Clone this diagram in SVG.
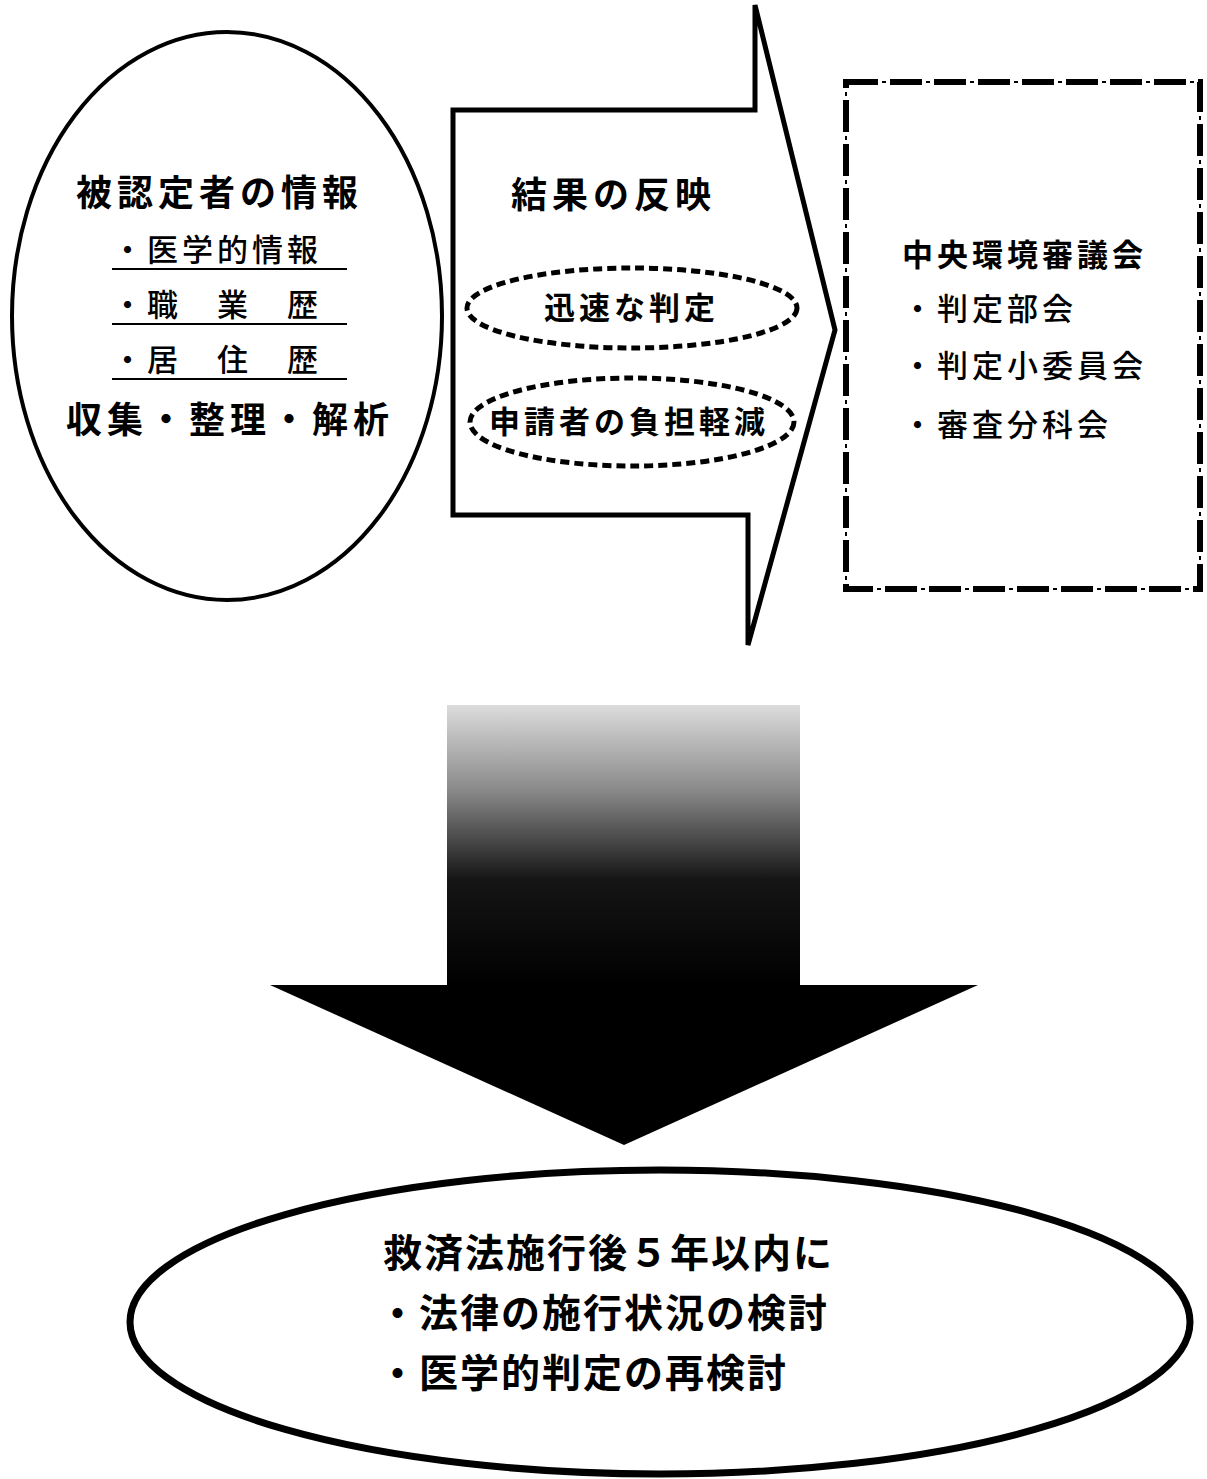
<svg xmlns="http://www.w3.org/2000/svg" width="1207" height="1479" viewBox="0 0 1207 1479">
<defs>
<linearGradient id="shaft" x1="0" y1="0" x2="0" y2="1">
<stop offset="0" stop-color="#dcdcdc"/>
<stop offset="0.3" stop-color="#8a8a8a"/>
<stop offset="0.62" stop-color="#151515"/>
<stop offset="1" stop-color="#000"/>
</linearGradient>
</defs>
<style>
text{font-family:"Noto Sans CJK JP","Noto Sans CJK SC",sans-serif;fill:#000}
.h{font-size:36px;font-weight:700;letter-spacing:5px}
.s{font-size:31px;font-weight:500;letter-spacing:4px}
.b{font-size:39px;font-weight:700;letter-spacing:2px}
.ln{stroke:#000;stroke-width:2}
</style>
<rect width="1207" height="1479" fill="#fff"/>
<g id="info">
<ellipse cx="227" cy="316" rx="215" ry="284" fill="#fff" stroke="#000" stroke-width="4"/>
<text class="h" x="76" y="206">被認定者の情報</text>
<text class="s" x="112" y="261">・医学的情報</text>
<line class="ln" x1="112" y1="269" x2="347" y2="269"/>
<text class="s" x="112" y="316">・職　業　歴</text>
<line class="ln" x1="112" y1="324" x2="347" y2="324"/>
<text class="s" x="112" y="371">・居　住　歴</text>
<line class="ln" x1="112" y1="379" x2="347" y2="379"/>
<text class="h" x="66" y="433">収集・整理・解析</text>
</g>
<g id="reflect">
<polygon points="453,110 755,110 755,5 835,330 748,645 748,515 453,515" fill="#fff" stroke="#000" stroke-width="5" stroke-linejoin="miter"/>
<text class="h" x="511" y="208">結果の反映</text>
<ellipse cx="632" cy="308" rx="165" ry="40" fill="none" stroke="#000" stroke-width="5" stroke-dasharray="9 5"/>
<text class="s" x="544" y="319" style="font-weight:700">迅速な判定</text>
<ellipse cx="632" cy="422" rx="162" ry="44" fill="none" stroke="#000" stroke-width="5" stroke-dasharray="9 5"/>
<text class="s" x="489" y="433" style="font-weight:700">申請者の負担軽減</text>
</g>
<g id="council">
<rect x="846" y="82" width="354" height="507" fill="#fff" stroke="#000" stroke-width="6" stroke-dasharray="32 12"/>
<rect x="846" y="82" width="354" height="507" fill="none" stroke="#000" stroke-width="2" stroke-dasharray="4 40" stroke-dashoffset="8"/>
<text class="s" x="902" y="266" style="font-weight:700;letter-spacing:4px">中央環境審議会</text>
<text class="s" x="902" y="320">・判定部会</text>
<text class="s" x="902" y="377">・判定小委員会</text>
<text class="s" x="902" y="436">・審査分科会</text>
</g>
<g id="down">
<rect x="447" y="705" width="353" height="282" fill="url(#shaft)"/>
<polygon points="270,985 978,985 624,1145" fill="#000"/>
</g>
<g id="review">
<ellipse cx="660" cy="1322" rx="530" ry="152" fill="#fff" stroke="#000" stroke-width="7"/>
<text class="b" x="383" y="1267">救済法施行後５年以内に</text>
<text class="b" x="378" y="1327">・法律の施行状況の検討</text>
<text class="b" x="378" y="1387">・医学的判定の再検討</text>
</g>
<g id="connectors"></g>
</svg>
